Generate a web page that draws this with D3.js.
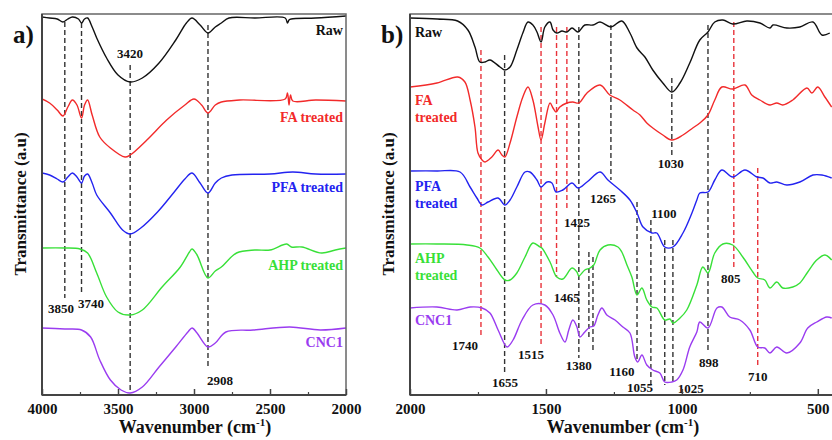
<!DOCTYPE html>
<html lang="en">
<head>
<meta charset="utf-8">
<title>FTIR spectra</title>
<script src="https://d3js.org/d3.v7.min.js"></script>
<style>
    body { margin: 0; background: #fff; }
    svg text { font-family: "Liberation Serif", "Times New Roman", serif; font-weight: bold; }
</style>
</head>
<body>
<svg id="chart" width="832" height="440"></svg>
<script>
// ---- data: [wavenumber, transmittance (a.u., offset per sample)] ----
const samples = ["Raw", "FA treated", "PFA treated", "AHP treated", "CNC1"];
const colors = ["#111111", "#f22a2a", "#2323f0", "#38e038", "#9a3cf0"];

// panel a (4000-2000 cm-1)
const rawA = [[4000,378],[3950,377],[3900,376],[3862,373],[3830,376],[3800,378],[3760,376],[3740,372],[3720,376],[3700,377],[3670,368],[3640,357],[3575,337],[3500,320],[3420,313],[3340,317],[3230,332],[3120,355],[3050,372],[3013,377],[2960,370],[2908,362],[2860,368],[2820,372],[2770,377],[2600,377],[2400,377],[2385,372],[2375,375],[2360,376],[2200,377],[2000,379]];
const faA = [[4000,296],[3950,292],[3900,285],[3862,279],[3830,288],[3800,295],[3770,290],[3740,277],[3720,290],[3700,295],[3670,280],[3620,258],[3550,247],[3454,238],[3420,240],[3310,255],[3180,275],[3060,290],[3000,296],[2950,290],[2908,282],[2860,290],[2820,293],[2700,295],[2400,296],[2385,302],[2375,290],[2365,300],[2350,294],[2200,295],[2000,294]];
const pfaA = [[4000,222],[3950,220],[3900,216],[3862,213],[3830,218],[3800,222],[3770,218],[3740,212],[3720,219],[3700,221],[3670,212],[3640,200],[3550,182],[3470,165],[3420,161],[3350,167],[3240,183],[3130,203],[3060,216],[3013,222],[2960,212],[2908,202],[2860,212],[2820,217],[2750,220],[2500,221],[2350,223],[2200,221],[2000,221]];
const ahpA = [[4000,147],[3850,147],[3750,146],[3700,142],[3640,122],[3575,98],[3500,83],[3420,80],[3340,85],[3210,108],[3090,128],[3030,143],[3013,146],[2980,140],[2908,117],[2860,124],[2820,128],[2720,142],[2600,145],[2500,145],[2390,151],[2360,148],[2290,148],[2160,142],[2070,145],[2000,147]];
const cncA = [[4000,67],[3850,66],[3740,65],[3680,58],[3620,35],[3550,15],[3480,5],[3420,2],[3340,8],[3230,28],[3120,48],[3040,63],[3013,67],[2980,62],[2908,48],[2860,52],[2790,63],[2610,65],[2370,68],[2170,65],[2000,67]];

// panel b (2000-500 cm-1)
const rawB = [[2000,377],[1900,376],[1825,374],[1787,365],[1761,348],[1743,333],[1724,333],[1706,335],[1669,328],[1651,325],[1632,328],[1607,345],[1585,362],[1566,373],[1548,370],[1533,363],[1518,353],[1504,368],[1485,373],[1474,365],[1460,362],[1441,364],[1423,363],[1404,367],[1382,363],[1357,370],[1327,370],[1301,373],[1261,368],[1221,374],[1191,362],[1165,347],[1136,338],[1107,325],[1070,312],[1037,303],[1007,312],[971,332],[934,355],[904,363],[879,373],[849,375],[813,371],[761,374],[713,372],[676,367],[665,370],[614,367],[566,368],[518,373],[485,360],[456,362]];
const faB = [[2000,308],[1901,312],[1824,318],[1798,313],[1779,295],[1761,268],[1750,242],[1735,235],[1724,233],[1699,238],[1676,245],[1662,240],[1651,238],[1632,252],[1607,278],[1585,298],[1566,308],[1548,295],[1529,268],[1518,255],[1504,272],[1485,292],[1474,287],[1463,283],[1449,288],[1423,292],[1401,293],[1379,292],[1349,302],[1301,310],[1265,300],[1228,295],[1180,285],[1154,280],[1129,272],[1107,267],[1070,260],[1037,255],[996,260],[960,267],[934,272],[904,280],[879,295],[853,308],[813,306],[768,310],[743,300],[713,295],[676,290],[651,292],[629,290],[592,295],[540,307],[522,302],[500,308],[474,298],[449,288]];
const pfaB = [[2000,224],[1901,224],[1816,223],[1779,208],[1754,197],[1735,190],[1713,193],[1676,197],[1651,190],[1632,195],[1607,208],[1577,223],[1559,223],[1533,215],[1518,208],[1496,213],[1478,212],[1463,203],[1438,205],[1404,212],[1382,207],[1349,213],[1301,223],[1272,215],[1228,205],[1191,195],[1165,182],[1143,168],[1110,162],[1092,162],[1063,148],[1033,148],[996,162],[963,182],[945,195],[934,202],[904,203],[879,215],[853,225],[813,218],[768,225],[724,218],[702,217],[676,212],[651,213],[614,210],[566,213],[518,220],[485,220],[449,217]];
const ahpB = [[2000,151],[1901,151],[1790,150],[1743,147],[1713,138],[1680,125],[1651,115],[1632,115],[1607,122],[1577,138],[1548,152],[1522,148],[1515,147],[1485,133],[1460,118],[1438,116],[1404,127],[1386,123],[1379,119],[1357,125],[1338,127],[1324,130],[1301,145],[1272,150],[1235,148],[1221,143],[1202,130],[1184,118],[1165,100],[1147,107],[1129,95],[1110,88],[1092,87],[1063,75],[1044,76],[1033,72],[1007,77],[982,85],[945,110],[923,128],[904,122],[879,142],[849,151],[813,150],[776,138],[739,123],[721,117],[695,115],[676,107],[651,113],[629,107],[592,108],[566,112],[537,123],[504,135],[474,140],[449,135]];
const cncB = [[2000,87],[1901,88],[1827,85],[1779,88],[1735,87],[1706,82],[1676,65],[1643,48],[1621,55],[1588,75],[1548,90],[1504,90],[1474,80],[1449,62],[1430,53],[1416,65],[1401,75],[1386,68],[1375,58],[1357,63],[1338,68],[1324,69],[1309,80],[1294,87],[1276,80],[1246,75],[1217,68],[1191,62],[1173,38],[1162,33],[1147,40],[1129,30],[1107,25],[1081,22],[1063,13],[1037,13],[1019,15],[996,25],[971,48],[945,63],[934,73],[904,67],[871,87],[853,88],[824,78],[787,75],[750,65],[721,48],[695,47],[676,42],[651,48],[614,42],[566,52],[537,67],[504,73],[467,78],[449,77]];

const seriesA = [rawA, faA, pfaA, ahpA, cncA];
const seriesB = [rawB, faB, pfaB, ahpB, cncB];

// dashed marker lines: [wavenumber, top, bottom, red?]
const markA = [[3850,373,97,0],[3740,372,100,0],[3420,330,2,0],[2908,370,27,0]];
const markB = [[1739,345,57,1],[1652,340,20,0],[1518,368,48,1],[1461,368,118,1],[1423,368,187,1],[1379,368,37,0],[1342,143,55,0],[1327,138,42,0],[1261,370,215,0],[1165,193,35,0],[1114,175,8,0],[1063,155,10,0],[1033,155,13,0],[1037,317,238,0],[904,370,43,0],[809,373,127,1],[721,227,27,1]];

// peak labels: [text, wavenumber, value]
const peakA = [["3420",3421,342],["3850",3875,87],["3740",3678,92],["2908",2829,15]];
const peakB = [["1740",1798,50],["1655",1651,13],["1515",1555,41],["1465",1423,98],["1425",1386,173],["1380",1379,30],["1265",1290,197],["1100",1066,182],["1030",1041,232],["1160",1221,24],["1055",1154,8],["1025",967,7],["898",901,33],["805",820,117],["710",721,19]];

// sample name labels
const nameA = [["Raw",365],["FA treated",278],["PFA treated",208],["AHP treated",130],["CNC1",53]];
const nameB = [[["Raw"],363],[["FA","treated"],295],[["PFA","treated"],209],[["AHP","treated"],137],[["CNC1"],75]];

const ticksA = [4000, 3500, 3000, 2500, 2000];
const minorA = [3750, 3250, 2750, 2250];
const ticksB = [2000, 1500, 1000, 500];
const minorB = [1750, 1250, 750];

// ---- drawing ----
const svg = d3.select("#chart");
const plotTop = 14, plotBottom = 395;
const y = d3.scaleLinear().domain([0, 381]).range([plotBottom, plotTop]);
const xa = d3.scaleLinear().domain([4000, 2000]).range([42, 346]);
const xb = d3.scaleLinear().domain([2000, 400]).range([410, 845]);

function panel(x, series, marks, peaks, id) {
    const [x0, x1] = x.range();
    svg.append("clipPath").attr("id", id)
        .append("rect").attr("x", x0).attr("y", plotTop).attr("width", x1 - x0).attr("height", plotBottom - plotTop);

    const g = svg.append("g").attr("clip-path", `url(#${id})`);

    g.selectAll("line.mark").data(marks).enter().append("line")
        .attr("x1", d => x(d[0])).attr("x2", d => x(d[0]))
        .attr("y1", d => y(d[1])).attr("y2", d => y(d[2]))
        .attr("stroke", d => d[3] ? "#e8323a" : "#333")
        .attr("stroke-width", 1.4)
        .attr("stroke-dasharray", "5,3");

    const line = d3.line().x(d => x(d[0])).y(d => y(d[1])).curve(d3.curveCatmullRom.alpha(0.5));
    g.selectAll("path.spec").data(series).enter().append("path")
        .attr("d", line)
        .attr("fill", "none")
        .attr("stroke", (d, i) => colors[i])
        .attr("stroke-width", 1.4);

    svg.append("g").selectAll("text").data(peaks).enter().append("text")
        .attr("x", d => x(d[1])).attr("y", d => y(d[2]))
        .attr("dy", "0.35em")
        .attr("text-anchor", "middle")
        .attr("font-size", 13)
        .attr("fill", "#111")
        .text(d => d[0]);

    // frame
    svg.append("rect").attr("x", x0).attr("y", plotTop).attr("width", x1 - x0).attr("height", plotBottom - plotTop)
        .attr("fill", "none").attr("stroke", "#666").attr("stroke-width", 1.5);
    svg.append("line").attr("x1", x0).attr("x2", x0).attr("y1", plotTop).attr("y2", plotBottom)
        .attr("stroke", "#444").attr("stroke-width", 2);
    svg.append("line").attr("x1", x0).attr("x2", x1).attr("y1", plotBottom).attr("y2", plotBottom)
        .attr("stroke", "#444").attr("stroke-width", 2);
}

function axes(x, major, minor) {
    const ax = svg.append("g").attr("transform", `translate(0,${plotBottom})`)
        .call(d3.axisBottom(x).tickValues(major).tickSize(-6).tickPadding(8).tickFormat(d3.format("d")));
    ax.select(".domain").remove();
    ax.selectAll("line").attr("stroke", "#444").attr("stroke-width", 1.5);
    ax.selectAll("text").attr("font-size", 15).attr("fill", "#111")
        .attr("font-family", "'Liberation Serif', 'Times New Roman', serif");
    const mi = svg.append("g").attr("transform", `translate(0,${plotBottom})`)
        .call(d3.axisBottom(x).tickValues(minor).tickSize(-3).tickFormat(""));
    mi.select(".domain").remove();
    mi.selectAll("line").attr("stroke", "#444").attr("stroke-width", 1.2);
}

function titles(cx, ly, lx, letter, letterX) {
    const t = svg.append("text").attr("x", cx).attr("y", 433)
        .attr("text-anchor", "middle").attr("font-size", 18).attr("fill", "#111");
    t.append("tspan").text("Wavenumber (cm");
    t.append("tspan").attr("dy", -7).attr("font-size", 11).text("-1");
    t.append("tspan").attr("dy", 7).text(")");

    svg.append("text").attr("transform", `translate(${lx},${ly}) rotate(-90)`)
        .attr("text-anchor", "middle").attr("dy", "0.35em")
        .attr("font-size", 17).attr("fill", "#111")
        .text("Transmittance (a.u)");

    svg.append("text").attr("x", letterX).attr("y", 43)
        .attr("font-size", 25).attr("fill", "#111").text(letter);
}

panel(xa, seriesA, markA, peakA, "clipA");
panel(xb, seriesB, markB, peakB, "clipB");
axes(xa, ticksA, minorA);
axes(xb, ticksB, minorB);
titles(195, 204, 20, "a)", 13);
titles(623, 204, 388, "b)", 381);

// sample names, panel a: right aligned
svg.append("g").selectAll("text").data(nameA).enter().append("text")
    .attr("x", xa(2020)).attr("y", d => y(d[1]))
    .attr("dy", "0.35em").attr("text-anchor", "end")
    .attr("font-size", 14)
    .attr("fill", (d, i) => colors[i])
    .text(d => d[0]);

// sample names, panel b: left aligned, stacked
nameB.forEach((d, i) => {
    d[0].forEach((w, j) => {
        svg.append("text")
            .attr("x", xb(1982)).attr("y", y(d[1]) + j * 17)
            .attr("dy", "0.35em")
            .attr("font-size", 14)
            .attr("fill", colors[i])
            .text(w);
    });
});
</script>
</body>
</html>
